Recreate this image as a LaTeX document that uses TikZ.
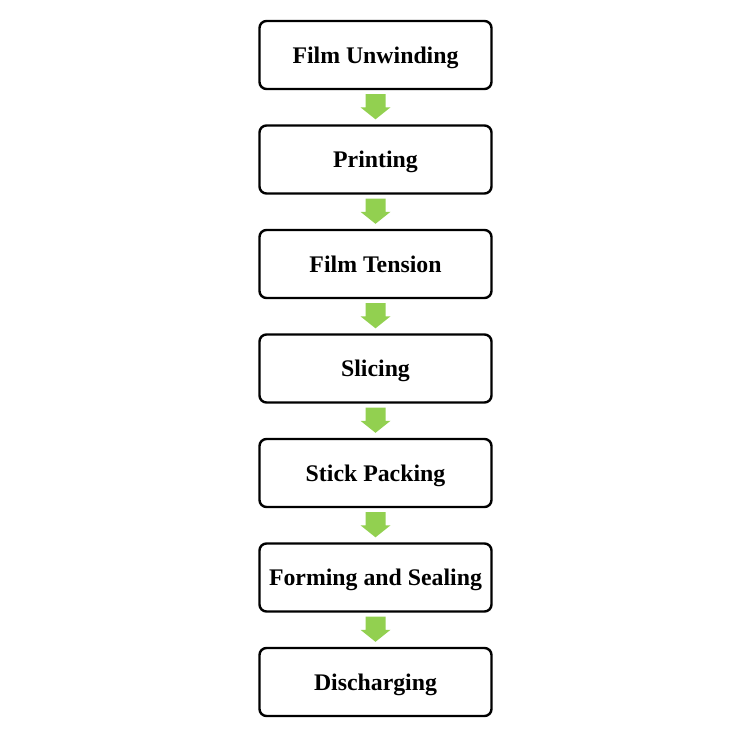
\documentclass[tikz,border=0pt]{standalone}
\usepackage{fontspec}
\setmainfont{Liberation Serif}
\usetikzlibrary{calc}
\definecolor{arrgreen}{HTML}{92D050}
\begin{document}
\begin{tikzpicture}[x=1pt,y=-1pt,
  stepbox/.style={draw=black, line width=2.4pt, rounded corners=7pt, fill=white,
    minimum width=232pt, minimum height=68pt, inner sep=0pt,
    text height=16pt, text depth=0pt,
    font=\fontsize{23.8}{26}\selectfont\bfseries},
  flowarrow/.style={fill=arrgreen, draw=none}]
\useasboundingbox (0,0) rectangle (750,737);
\foreach \i/\t in {1/Film Unwinding,2/Printing,3/Film Tension,4/Slicing,5/Stick Packing,6/Forming and Sealing,7/Discharging}{
  \node[stepbox] (b\i) at (375.5,{55+(\i-1)*104.5}) {\t};
}
\foreach \i [evaluate=\i as \j using int(\i+1)] in {1,...,6}{
  \path (b\i.south) ++(0,4) coordinate (s\i);
  \path (b\j.north) ++(0,-5) coordinate (e\i);
  \fill[flowarrow] ($(s\i)+(-10,0)$) -- ($(s\i)+(10,0)$) -- ($(e\i)+(10,-12)$) -- ($(e\i)+(15,-12)$) -- (e\i) -- ($(e\i)+(-15,-12)$) -- ($(e\i)+(-10,-12)$) -- cycle;
}
\end{tikzpicture}
\end{document}
